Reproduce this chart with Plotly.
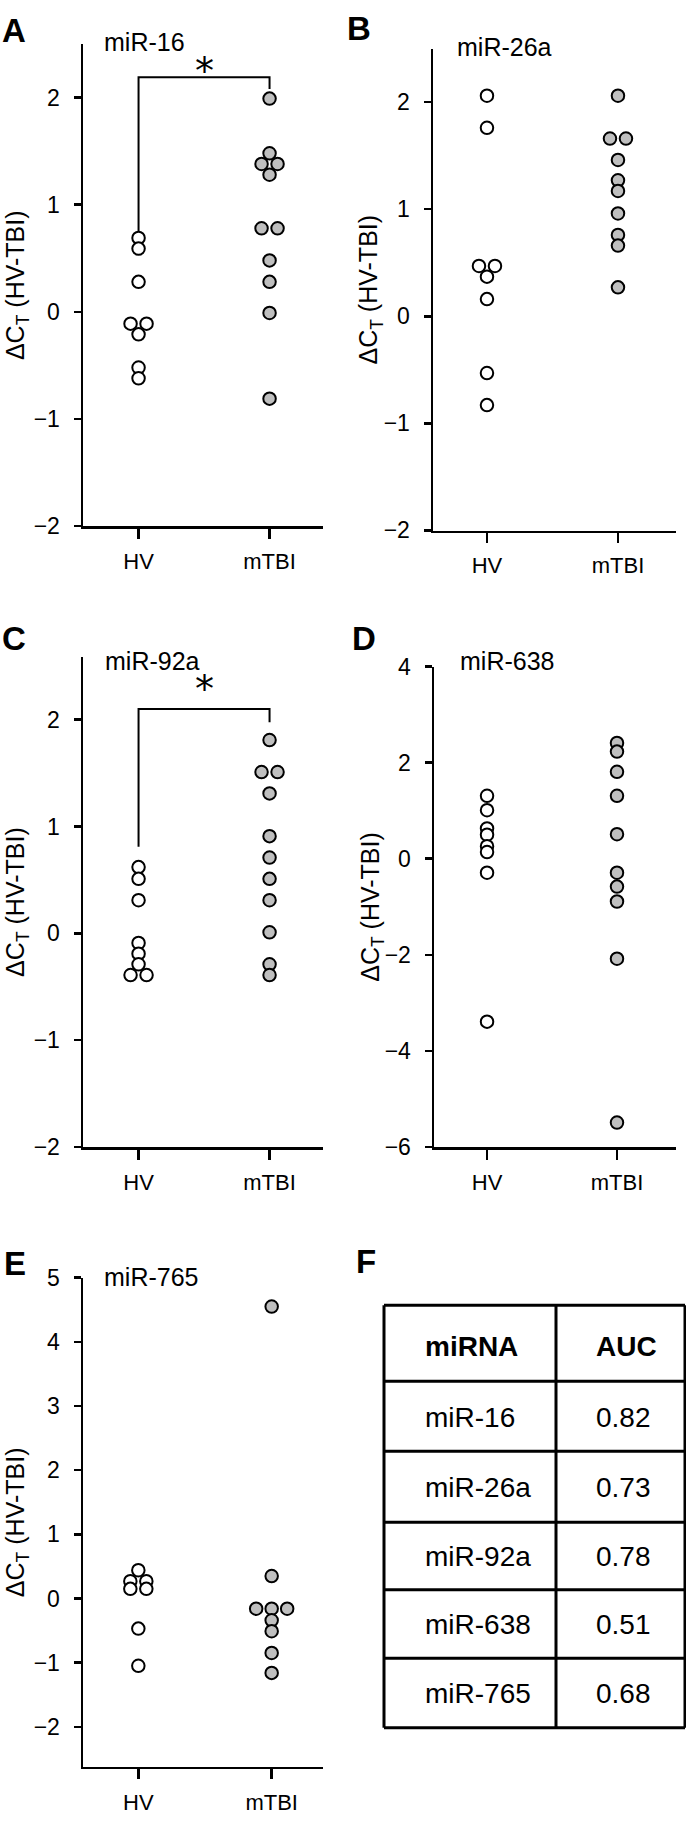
import plotly.graph_objects as go
from collections import Counter

W, H = 686, 1822
FONT = "Liberation Sans, Arial, sans-serif"

# ---------------- data ----------------
categories = ["HV", "mTBI"]

mir16_hv = [0.69, 0.59, 0.28, -0.11, -0.11, -0.21, -0.52, -0.62]
mir16_mtbi = [1.99, 1.48, 1.38, 1.38, 1.28, 0.78, 0.78, 0.48, 0.28, -0.01, -0.81]

mir26a_hv = [2.06, 1.76, 0.47, 0.47, 0.37, 0.16, -0.53, -0.83]
mir26a_mtbi = [2.06, 1.66, 1.66, 1.46, 1.27, 1.17, 0.96, 0.76, 0.66, 0.27]

mir92a_hv = [0.62, 0.51, 0.31, -0.09, -0.19, -0.29, -0.39, -0.39]
mir92a_mtbi = [1.81, 1.51, 1.51, 1.31, 0.91, 0.71, 0.51, 0.31, 0.01, -0.29, -0.39]

mir638_hv = [1.31, 1.01, 0.63, 0.50, 0.26, 0.14, -0.29, -3.39]
mir638_mtbi = [2.41, 2.23, 1.81, 1.31, 0.51, -0.29, -0.58, -0.89, -2.08, -5.49]

mir765_hv = [0.44, 0.27, 0.27, 0.15, 0.15, -0.47, -1.05]
mir765_mtbi = [4.55, 0.35, -0.16, -0.16, -0.16, -0.34, -0.51, -0.85, -1.16]

# significance brackets: (left leg bottom, bar height, right leg bottom, star height, label)
sig16 = [0.75, 2.19, 2.08, 2.32, "*"]
sig92a = [0.81, 2.10, 1.975, 2.36, "*"]

table_mirna = ["miR-16", "miR-26a", "miR-92a", "miR-638", "miR-765"]
table_auc = ["0.82", "0.73", "0.78", "0.51", "0.68"]
table_header = ["miRNA", "AUC"]

# ---------------- layout geometry (pixels) ----------------
panels = [
    dict(letter="A", title="miR-16", hv=mir16_hv, tb=mir16_mtbi,
         xpx=(83, 323), ypx=(31.4, 520.7), yr=(-2.0, 2.5), xr=(-0.424, 1.408), dtick=1,
         letter_pos=(0, 18), title_pos=(102, 29), ytitle_x=17, sig=sig16),
    dict(letter="B", title="miR-26a", hv=mir26a_hv, tb=mir26a_mtbi,
         xpx=(433, 676), ypx=(36.1, 525), yr=(-2.0, 2.5), xr=(-0.412, 1.443), dtick=1,
         letter_pos=(345, 16), title_pos=(455, 34), ytitle_x=370, sig=None),
    dict(letter="C", title="miR-92a", hv=mir92a_hv, tb=mir92a_mtbi,
         xpx=(83, 323), ypx=(653, 1150.5), yr=(-2.0, 2.59), xr=(-0.424, 1.408), dtick=1,
         letter_pos=(0, 635), title_pos=(103, 657), ytitle_x=17, sig=sig92a),
    dict(letter="D", title="miR-638", hv=mir638_hv, tb=mir638_mtbi,
         xpx=(434, 676), ypx=(663, 1150.5), yr=(-6.0, 4.0), xr=(-0.408, 1.454), dtick=2,
         letter_pos=(350, 635), title_pos=(458, 657), ytitle_x=372, sig=None),
    dict(letter="E", title="miR-765", hv=mir765_hv, tb=mir765_mtbi,
         xpx=(83, 323), ypx=(1283, 1779), yr=(-2.62, 5.0), xr=(-0.415, 1.385), dtick=1,
         letter_pos=(2, 1269), title_pos=(102, 1282), ytitle_x=17, sig=None),
]


def fx(px):
    return px / W


def fy(py):
    return 1 - py / H


def swarm(vals, unit_px):
    counts = Counter(vals)
    seen = Counter()
    offs = []
    for v in vals:
        n = counts[v]
        k = seen[v]
        seen[v] += 1
        spacing = 16.0 if n == 2 else 15.5
        offs.append((k - (n - 1) / 2) * spacing / unit_px)
    return offs


fig = go.Figure()
layout = dict(
    width=W, height=H, autosize=False,
    margin=dict(l=0, r=0, t=0, b=0),
    paper_bgcolor="white", plot_bgcolor="rgba(0,0,0,0)",
    showlegend=False,
    font=dict(family=FONT, color="black"),
)
annotations = []
shapes = []

for i, p in enumerate(panels, start=1):
    xa = "xaxis" if i == 1 else f"xaxis{i}"
    ya = "yaxis" if i == 1 else f"yaxis{i}"
    xr_ = "x" if i == 1 else f"x{i}"
    yr_ = "y" if i == 1 else f"y{i}"
    x0, x1 = p["xpx"]
    y0, y1 = p["ypx"]
    layout[xa] = dict(
        domain=[fx(x0), fx(x1)], anchor=yr_, range=list(p["xr"]),
        showline=True, linecolor="black", linewidth=2.5,
        ticks="outside", ticklen=10, tickwidth=2.5, tickcolor="black",
        tickmode="array", tickvals=[0, 1], ticktext=categories,
        tickfont=dict(family=FONT, size=22, color="black"),
        ticklabelstandoff=4,
        showgrid=False, zeroline=False, fixedrange=True,
    )
    layout[ya] = dict(
        domain=[fy(y1), fy(y0)], anchor=xr_,
        range=[p["yr"][0] - 0.001, p["yr"][1]],
        showline=True, linecolor="black", linewidth=2.5,
        ticks="outside", ticklen=7, tickwidth=2.5, tickcolor="black",
        tick0=0, dtick=p["dtick"],
        tickfont=dict(family=FONT, size=23, color="black"),
        ticklabelstandoff=9,
        showgrid=False, zeroline=False, fixedrange=True,
    )
    unit_px = (x1 - x0) / (p["xr"][1] - p["xr"][0])
    for gi, (vals, fill) in enumerate([(p["hv"], "white"), (p["tb"], "#bfbfbf")]):
        offs = swarm(vals, unit_px)
        fig.add_trace(go.Scatter(
            x=[gi + o for o in offs], y=vals, mode="markers",
            xaxis=xr_, yaxis=yr_, cliponaxis=False, hoverinfo="skip",
            marker=dict(size=12.5, color=fill, line=dict(color="black", width=2)),
        ))
    annotations.append(dict(
        text=f"<b>{p['letter']}</b>", x=fx(p["letter_pos"][0]), y=fy(p["letter_pos"][1]),
        xref="paper", yref="paper", xanchor="left", yanchor="middle", showarrow=False,
        font=dict(family=FONT, size=33, color="black"),
    ))
    annotations.append(dict(
        text=p["title"], x=fx(p["title_pos"][0]), y=fy(p["title_pos"][1]),
        xref="paper", yref="paper", xanchor="left", yanchor="middle", showarrow=False,
        font=dict(family=FONT, size=25, color="black"),
    ))
    annotations.append(dict(
        text="ΔC<sub>T</sub> (HV-TBI)", x=fx(p["ytitle_x"]), y=fy((y0 + y1) / 2),
        xref="paper", yref="paper", xanchor="center", yanchor="middle", showarrow=False,
        textangle=-90, font=dict(family=FONT, size=25, color="black"),
    ))
    if p["sig"] is not None:
        lb, top, rb, star_y, lab = p["sig"]
        shapes.append(dict(
            type="path", xref=xr_, yref=yr_,
            path=f"M 0,{lb} L 0,{top} L 1,{top} L 1,{rb}",
            line=dict(color="black", width=2),
        ))
        yunit = (y1 - y0) / (p["yr"][1] - p["yr"][0])
        annotations.append(dict(
            text=lab, x=0.5, y=star_y - 8 / yunit, xref=xr_, yref=yr_,
            xanchor="center", yanchor="middle", showarrow=False,
            font=dict(family="DejaVu Sans, sans-serif", size=38, color="black"),
        ))

# ---------------- panel F: table ----------------
tx0, tx_mid, tx1 = 384, 556, 685
row_edges = [1311, 1388, 1459, 1531, 1599.5, 1669, 1739.6]
for xv in (tx0, tx_mid, tx1):
    shapes.append(dict(type="line", xref="paper", yref="paper",
                       x0=fx(xv), x1=fx(xv), y0=fy(row_edges[0]), y1=fy(row_edges[-1]),
                       line=dict(color="black", width=3)))
for yv in row_edges:
    shapes.append(dict(type="line", xref="paper", yref="paper",
                       x0=fx(tx0), x1=fx(tx1), y0=fy(yv), y1=fy(yv),
                       line=dict(color="black", width=3)))

annotations.append(dict(
    text="<b>F</b>", x=fx(354), y=fy(1267), xref="paper", yref="paper",
    xanchor="left", yanchor="middle", showarrow=False,
    font=dict(family=FONT, size=33, color="black"),
))
col_left = [423, 594]
hdr_y = (row_edges[0] + row_edges[1]) / 2 + 3
for c, txt in enumerate(table_header):
    annotations.append(dict(
        text=f"<b>{txt}</b>", x=fx(col_left[c]), y=fy(hdr_y), xref="paper", yref="paper",
        xanchor="left", yanchor="middle", showarrow=False,
        font=dict(family=FONT, size=28, color="black"),
    ))
for r, (name, auc) in enumerate(zip(table_mirna, table_auc)):
    yc = (row_edges[r + 1] + row_edges[r + 2]) / 2 + 1
    for c, txt in enumerate([name, auc]):
        annotations.append(dict(
            text=txt, x=fx(col_left[c]), y=fy(yc), xref="paper", yref="paper",
            xanchor="left", yanchor="middle", showarrow=False,
            font=dict(family=FONT, size=28, color="black"),
        ))

layout["annotations"] = annotations
layout["shapes"] = shapes
fig.update_layout(**layout)
fig.write_html(
    "out.html",
    config={"displayModeBar": False, "staticPlot": True},
    post_script="document.body.style.margin='0';document.body.style.overflow='hidden';",
)
